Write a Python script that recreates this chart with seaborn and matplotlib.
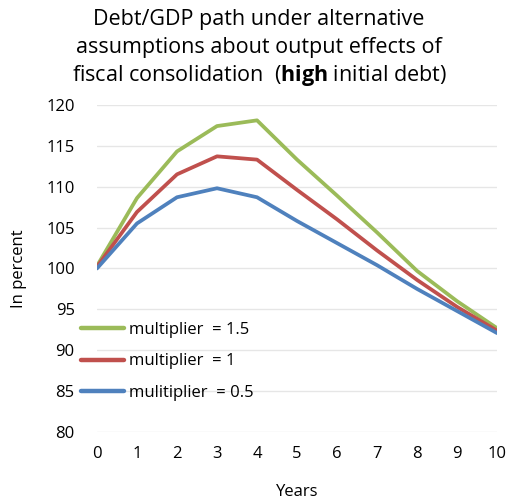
import pandas as pd
import matplotlib
matplotlib.use("Agg")
import matplotlib.pyplot as plt
import seaborn as sns

years = list(range(0, 11))
mult_15 = [100.3, 108.6, 114.3, 117.4, 118.1, 113.3, 108.9, 104.4, 99.7, 96.0, 92.7]
mult_1 = [100.2, 106.9, 111.5, 113.7, 113.3, 109.6, 106.0, 102.2, 98.6, 95.3, 92.4]
mult_05 = [100.0, 105.5, 108.7, 109.8, 108.7, 105.8, 103.1, 100.4, 97.5, 94.8, 92.1]
labels = ["multiplier  = 1.5", "multiplier  = 1", "mulitiplier  = 0.5"]
colors = ["#9BBB59", "#C0504D", "#4F81BD"]

df = pd.DataFrame({
    "Years": years * 3,
    "value": mult_15 + mult_1 + mult_05,
    "series": [labels[0]] * 11 + [labels[1]] * 11 + [labels[2]] * 11,
})

sns.set_style("white", {"text.color": "black", "axes.labelcolor": "black",
                        "xtick.color": "black", "ytick.color": "black"})
plt.rcParams["font.family"] = ["Open Sans", "DejaVu Sans"]
plt.rcParams["mathtext.fontset"] = "custom"
plt.rcParams["mathtext.rm"] = "Open Sans"
plt.rcParams["mathtext.bf"] = "Open Sans:bold"

fig = plt.figure(figsize=(5.13, 4.99), dpi=100)
ax = fig.add_axes([0.189, 0.134, 0.78, 0.656])

sns.lineplot(data=df, x="Years", y="value", hue="series", palette=colors,
             linewidth=2.7, ax=ax, legend=False)

ax.set_xlim(0, 10)
ax.set_ylim(80, 120)
ax.set_xticks(years)
ax.set_yticks(range(80, 121, 5))
ax.grid(axis="y", color="#E6E6E6", linewidth=1)
for s in ax.spines.values():
    s.set_visible(False)
ax.tick_params(axis="y", labelsize=12, length=0, pad=16)
ax.tick_params(axis="x", labelsize=12, length=0, pad=10)
ax.set_xlabel("Years", fontsize=12, labelpad=16)
ax.set_ylabel("In percent", fontsize=12, labelpad=14)

# legend drawn by hand-ordered handles
handles = [plt.Line2D([], [], color=c, linewidth=3.2) for c in colors]
fig.legend(handles, labels, loc="upper left", bbox_to_anchor=(0.144, 0.369),
           frameon=False, fontsize=12, handlelength=2.6, handletextpad=0.3,
           labelspacing=0.95, borderaxespad=0)

fig.text(0.505, 0.96, "Debt/GDP path under alternative", ha="center", va="center", fontsize=15.5)
fig.text(0.505, 0.904, "assumptions about output effects of", ha="center", va="center", fontsize=15.5)
fig.text(0.505, 0.848, r"fiscal consolidation  ($\bf{high}$ initial debt)", ha="center", va="center",
         fontsize=15.5)

fig.savefig("out.png", dpi=100)
